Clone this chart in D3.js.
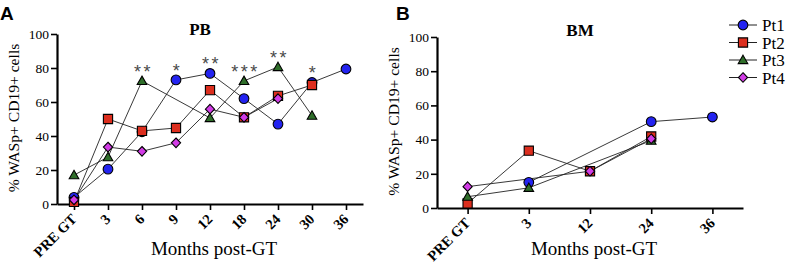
<!DOCTYPE html>
<html><head><meta charset="utf-8">
<script src="https://cdn.jsdelivr.net/npm/d3@7/dist/d3.min.js"></script>
<style>
body{margin:0;background:#fff;}
svg{display:block;}
</style></head>
<body>
<svg id="c" width="791" height="270"></svg>
<script>
// ---------- data ----------
const seriesNames = ["Pt1","Pt2","Pt3","Pt4"];
const seriesColors = ["#2323f0","#dc2e1e","#2f6e2a","#d23ce6"];
const seriesShapes = ["circle","square","triangle","diamond"];

const pbCategories = ["PRE GT","3","6","9","12","18","24","30","36"];
const pbPt1 = [3.9, 20.5, 42.5, 73, 76.8, 62, 47, 71.5, 79.4];
const pbPt2 = [1.2, 50, 43, 44.7, 67, 51, 63.6, 70, null];
const pbPt3 = [17, 27.6, 72.4, null, 50.6, 72.4, 80.6, 52, null];
const pbPt4 = [2.4, 33.5, 31, 36, 55.8, 51, 62, null, null];

const bmCategories = ["PRE GT","3","12","24","36"];
const bmPt1 = [null, 15, null, 50.5, 53.2];
const bmPt2 = [2.7, 33.5, 21.5, 41.8, null];
const bmPt3 = [6.6, 11.8, null, 39.4, null];
const bmPt4 = [12.5, null, 21.5, 40.5, null];

const yTicks = [0, 20, 40, 60, 80, 100];
const starCategories = ["6","9","12","18","24","30"];
const starLabels = ["**","*","**","***","**","*"];

// ---------- drawing ----------
const SERIF = "'Liberation Serif','Times New Roman',serif";
const SANS = "'Liberation Sans',Arial,sans-serif";
const svg = d3.select("#c");

function shapePath(shape){
  if(shape==="circle") return d3.symbol(d3.symbolCircle, 74)();
  if(shape==="square") return "M-4.6,-4.6H4.6V4.6H-4.6Z";
  if(shape==="triangle") return "M0,-4.8L4.8,3.6H-4.8Z";
  return "M0,-4.8L4.6,0L0,4.8L-4.6,0Z";
}

function txt(sel, family, size, weight){
  return sel.style("font-family",family).style("font-size",size+"px")
    .style("font-weight",weight||"normal").style("fill","#000");
}

function panel(opt){
  const g = svg.append("g");
  const x = d3.scalePoint().domain(opt.categories).range([opt.x0, opt.x1]).padding(0.5);
  const y = d3.scaleLinear().domain([0,100]).range([opt.yBottom, opt.yTop]);

  // y axis
  const ya = g.append("g").attr("transform",`translate(${opt.x0},0)`)
    .call(d3.axisLeft(y).tickValues(yTicks).tickSize(6).tickSizeOuter(0).tickPadding(2));
  ya.select(".domain").attr("stroke","#000").attr("stroke-width",2.2);
  ya.selectAll(".tick line").attr("stroke","#000").attr("stroke-width",1.6);
  txt(ya.selectAll(".tick text"), SERIF, 13.5);

  // x axis
  const xa = g.append("g").attr("transform",`translate(0,${opt.yBottom})`)
    .call(d3.axisBottom(x).tickSize(6).tickSizeOuter(0));
  xa.select(".domain").attr("stroke","#000").attr("stroke-width",2.2);
  xa.selectAll(".tick line").attr("stroke","#000").attr("stroke-width",1.6);
  txt(xa.selectAll(".tick text"), SERIF, 14.5, "bold")
    .attr("text-anchor","end").attr("dy",null).attr("y",null)
    .attr("transform","translate(3,16) rotate(-45)");

  // titles
  txt(g.append("text"), SERIF, 17, "bold").attr("x",opt.titleX).attr("y",opt.titleY)
    .attr("text-anchor","middle").text(opt.title);
  txt(g.append("text"), SERIF, 19).attr("x",(opt.x0+opt.x1)/2+4).attr("y",255)
    .attr("text-anchor","middle").text("Months post-GT");
  txt(g.append("text"), SERIF, 15.6)
    .attr("transform",`translate(${opt.x0-38},${(opt.yTop+opt.yBottom)/2-1}) rotate(-90)`)
    .attr("text-anchor","middle").text("% WASp+ CD19+ cells");
  txt(g.append("text"), SANS, 19, "bold").attr("x",opt.letterX).attr("y",20).text(opt.letter);

  // lines
  const line = d3.line().x(d=>x(d.c)).y(d=>y(d.v));
  const pts = opt.series.map(vals => opt.categories.map((c,i)=>({c, v: vals[i]})).filter(d=>d.v!=null));
  pts.forEach(p=>{
    g.append("path").attr("d",line(p)).attr("fill","none").attr("stroke","#222").attr("stroke-width",0.9);
  });
  pts.forEach((p,si)=>{
    g.selectAll(null).data(p).enter().append("path")
      .attr("d",shapePath(seriesShapes[si]))
      .attr("transform",d=>`translate(${x(d.c)},${y(d.v)})`)
      .attr("fill",seriesColors[si]).attr("stroke","#000").attr("stroke-width",1.1);
  });

  // significance stars
  if(opt.stars){
    opt.stars.cats.forEach((c,k)=>{
      const i = opt.categories.indexOf(c);
      const mx = d3.max(opt.series, s=>s[i]);
      txt(g.append("text"), SANS, 18).style("fill","#4a4a4a")
        .attr("x",x(c)+1.5).attr("y",y(mx)-13+10)
        .attr("text-anchor","middle").attr("letter-spacing",2.5)
        .text(opt.stars.labels[k]);
    });
  }
  return {x,y};
}

panel({categories:pbCategories, series:[pbPt1,pbPt2,pbPt3,pbPt4], x0:57, x1:363, yTop:34, yBottom:204,
  title:"PB", titleX:200, titleY:35, letter:"A", letterX:0,
  stars:{cats:starCategories, labels:starLabels}});
panel({categories:bmCategories, series:[bmPt1,bmPt2,bmPt3,bmPt4], x0:437, x1:743, yTop:37, yBottom:208,
  title:"BM", titleX:580, titleY:36, letter:"B", letterX:396});

// legend
const lg = svg.append("g");
seriesNames.forEach((n,i)=>{
  const cy = 25 + i*17.5;
  lg.append("line").attr("x1",729).attr("x2",757).attr("y1",cy).attr("y2",cy).attr("stroke","#222").attr("stroke-width",1);
  lg.append("path").attr("d",shapePath(seriesShapes[i])).attr("transform",`translate(743,${cy})`)
    .attr("fill",seriesColors[i]).attr("stroke","#000").attr("stroke-width",1.1);
  txt(lg.append("text"), SERIF, 17).attr("x",762).attr("y",cy+6).text(n);
});
</script>
</body></html>
